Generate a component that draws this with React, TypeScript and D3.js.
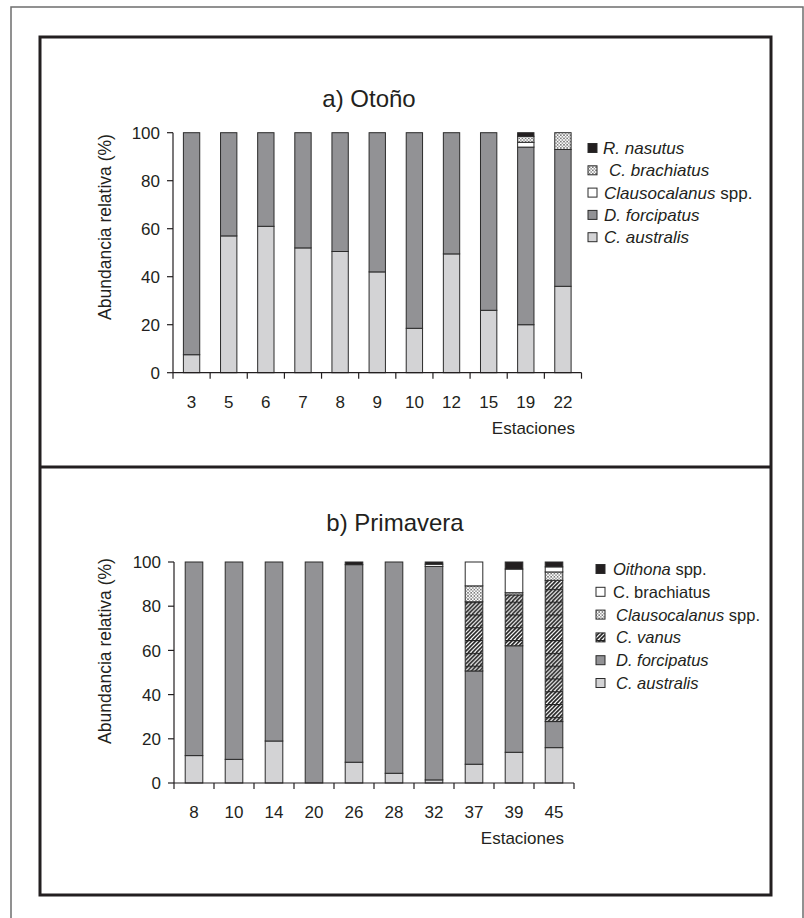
import React from "react";
import * as d3 from "d3";

// ---- Otoño (autumn) ----
const autumnStations = ["3", "5", "6", "7", "8", "9", "10", "12", "15", "19", "22"];
const autumnAustralis = [7.5, 57, 61, 52, 50.5, 42, 18.5, 49.5, 26, 20, 36];
const autumnForcipatus = [92.5, 43, 39, 48, 49.5, 58, 81.5, 50.5, 74, 74, 57];
const autumnClausocalanus = [0, 0, 0, 0, 0, 0, 0, 0, 0, 2, 0];
const autumnBrachiatus = [0, 0, 0, 0, 0, 0, 0, 0, 0, 2.5, 7];
const autumnNasutus = [0, 0, 0, 0, 0, 0, 0, 0, 0, 1.5, 0];

// ---- Primavera (spring) ----
const springStations = ["8", "10", "14", "20", "26", "28", "32", "37", "39", "45"];
const springAustralis = [12.4, 10.7, 19, 0, 9.4, 4.4, 1.4, 8.5, 13.9, 16];
const springForcipatus = [87.6, 89.3, 81, 100, 89.4, 95.6, 96.6, 42.2, 48.2, 11.8];
const springVanus = [0, 0, 0, 0, 0, 0, 0, 31.3, 23, 63.9];
const springClausocalanus = [0, 0, 0, 0, 0, 0, 0, 7.2, 1, 3.8];
const springBrachiatus = [0, 0, 0, 0, 0, 0, 1, 10.8, 10.7, 2.3];
const springOithona = [0, 0, 0, 0, 1.2, 0, 1, 0, 3.2, 2.2];

const yTicks = [0, 20, 40, 60, 80, 100];

const FONT = "'Liberation Sans', Arial, Helvetica, sans-serif";
const INK = "#231f20";

type Part = { text: string; italic: boolean };
type Series = { key: string; values: number[]; fill: string; label: Part[] };

type ChartProps = {
  title: string;
  stations: string[];
  series: Series[]; // bottom to top
  xRange: [number, number];
  yRange: [number, number]; // [y of 0, y of 100]
  axisX: number;
  titleX: number;
  titleY: number;
  yLabelX: number;
  yLabelY: number;
  tickLabelY: number;
  xTitleX: number;
  xTitleY: number;
  legendX: number;
  legendY: number;
  legendStep: number;
  legendFont: number;
  legendTextX: number[];
};

function StackedChart(p: ChartProps) {
  const x = d3.scaleBand<string>().domain(p.stations).range(p.xRange).paddingInner(0.56).paddingOuter(0.28);
  const y = d3.scaleLinear().domain([0, 100]).range(p.yRange);
  const band = x.step();

  const rows = p.stations.map((s, i) => {
    const r: Record<string, number | string> = { station: s };
    p.series.forEach((se) => (r[se.key] = se.values[i]));
    return r;
  });
  const stack = d3.stack<Record<string, any>>().keys(p.series.map((s) => s.key));
  const layers = stack(rows);

  const legendItems = [...p.series].reverse();

  return (
    <g>
      <text x={p.titleX} y={p.titleY} fontSize={24} textAnchor="middle" fill={INK} fontFamily={FONT}>
        {p.title}
      </text>

      {/* stacked bars */}
      {layers.map((layer, li) => (
        <g key={layer.key}>
          {layer.map((d, i) => {
            const h = y(d[0]) - y(d[1]);
            if (h <= 0.01) return null;
            return (
              <rect
                key={i}
                x={x(p.stations[i])!}
                y={y(d[1])}
                width={x.bandwidth()}
                height={h}
                fill={p.series[li].fill}
                stroke="#2b2b2b"
                strokeWidth={1}
              />
            );
          })}
        </g>
      ))}

      {/* y axis */}
      <line x1={p.axisX} x2={p.axisX} y1={y(0)} y2={y(100)} stroke={INK} strokeWidth={1.2} />
      {yTicks.map((t) => (
        <g key={t}>
          <line x1={p.axisX - 6} x2={p.axisX} y1={y(t)} y2={y(t)} stroke={INK} strokeWidth={1.2} />
          <text x={p.axisX - 13} y={y(t)} dy="0.36em" fontSize={17} textAnchor="end" fill={INK} fontFamily={FONT}>
            {t}
          </text>
        </g>
      ))}

      {/* x axis */}
      <line x1={p.axisX} x2={p.xRange[1]} y1={y(0)} y2={y(0)} stroke={INK} strokeWidth={1.2} />
      {p.stations.map((s, i) => (
        <line
          key={"t" + s}
          x1={p.xRange[0] + band * i}
          x2={p.xRange[0] + band * i}
          y1={y(0)}
          y2={y(0) + 6}
          stroke={INK}
          strokeWidth={1.2}
        />
      ))}
      <line x1={p.xRange[1]} x2={p.xRange[1]} y1={y(0)} y2={y(0) + 6} stroke={INK} strokeWidth={1.2} />
      {p.stations.map((s) => (
        <text
          key={"l" + s}
          x={x(s)! + x.bandwidth() / 2}
          y={p.tickLabelY}
          dy="0.36em"
          fontSize={17}
          textAnchor="middle"
          fill={INK}
          fontFamily={FONT}
        >
          {s}
        </text>
      ))}
      <text x={p.xTitleX} y={p.xTitleY} dy="0.36em" fontSize={17} textAnchor="end" fill={INK} fontFamily={FONT}>
        Estaciones
      </text>

      <text
        transform={`translate(${p.yLabelX},${p.yLabelY}) rotate(-90)`}
        fontSize={17.5}
        textAnchor="middle"
        fill={INK}
        fontFamily={FONT}
      >
        Abundancia relativa (%)
      </text>

      {/* legend */}
      {legendItems.map((se, i) => {
        const cy = p.legendY + i * p.legendStep;
        return (
          <g key={"lg" + se.key}>
            <rect x={p.legendX} y={cy - 4.5} width={9} height={9} fill={se.fill} stroke="#2b2b2b" strokeWidth={1} />
            <text x={p.legendTextX[i]} y={cy} dy="0.36em" fontSize={p.legendFont} fill={INK} fontFamily={FONT}>
              {se.label.map((pt, j) => (
                <tspan key={j} fontStyle={pt.italic ? "italic" : "normal"}>
                  {pt.text}
                </tspan>
              ))}
            </text>
          </g>
        );
      })}
    </g>
  );
}

const LIGHT = "#d3d3d5";
const DARK = "#929295";
const BLACK = "#231f20";

export default function App() {
  const autumnSeries: Series[] = [
    { key: "australis", values: autumnAustralis, fill: LIGHT, label: [{ text: "C. australis", italic: true }] },
    { key: "forcipatus", values: autumnForcipatus, fill: DARK, label: [{ text: "D. forcipatus", italic: true }] },
    {
      key: "clausocalanus",
      values: autumnClausocalanus,
      fill: "#ffffff",
      label: [
        { text: "Clausocalanus", italic: true },
        { text: " spp.", italic: false },
      ],
    },
    { key: "brachiatus", values: autumnBrachiatus, fill: "url(#dots)", label: [{ text: "C. brachiatus", italic: true }] },
    { key: "nasutus", values: autumnNasutus, fill: BLACK, label: [{ text: "R. nasutus", italic: true }] },
  ];

  const springSeries: Series[] = [
    { key: "australis", values: springAustralis, fill: LIGHT, label: [{ text: "C. australis", italic: true }] },
    { key: "forcipatus", values: springForcipatus, fill: DARK, label: [{ text: "D. forcipatus", italic: true }] },
    { key: "vanus", values: springVanus, fill: "url(#hatch)", label: [{ text: "C. vanus", italic: true }] },
    {
      key: "clausocalanus",
      values: springClausocalanus,
      fill: "url(#dots)",
      label: [
        { text: "Clausocalanus", italic: true },
        { text: " spp.", italic: false },
      ],
    },
    { key: "brachiatus", values: springBrachiatus, fill: "#ffffff", label: [{ text: "C. brachiatus", italic: false }] },
    {
      key: "oithona",
      values: springOithona,
      fill: BLACK,
      label: [
        { text: "Oithona", italic: true },
        { text: " spp.", italic: false },
      ],
    },
  ];

  const hatchLines = d3.range(-12, 25, 4);

  return (
    <svg
      width={804}
      height={918}
      style={{ position: "absolute", left: 0, top: 0, background: "#fff" }}
      fontFamily={FONT}
    >
      <defs>
        <pattern id="dots" patternUnits="userSpaceOnUse" width={3.2} height={3.2}>
          <rect width={3.2} height={3.2} fill="#ffffff" />
          <rect x={0} y={0} width={1.6} height={1.6} fill="#7a7a7a" />
          <rect x={1.6} y={1.6} width={1.6} height={1.6} fill="#a0a0a0" />
        </pattern>
        <pattern id="hatch" patternUnits="userSpaceOnUse" width={12} height={12.8}>
          <rect width={12} height={12.8} fill="#ffffff" />
          {hatchLines.map((k) => (
            <line key={k} x1={k} y1={12.8} x2={k + 12.8} y2={0} stroke="#222" strokeWidth={1.7} />
          ))}
          <line x1={0} x2={12} y1={0.6} y2={0.6} stroke="#222" strokeWidth={1.2} />
        </pattern>
      </defs>

      <rect width={804} height={918} fill="#fff" />
      {/* outer border */}
      <rect x={11} y={7} width={792} height={940} fill="none" stroke="#6d6d6d" strokeWidth={1.5} />
      {/* panel frame */}
      <rect x={40} y={37} width={731} height={858} fill="none" stroke={INK} strokeWidth={3} />
      <line x1={40} x2={771} y1={467} y2={467} stroke={INK} strokeWidth={3} />

      <StackedChart
        title="a) Otoño"
        stations={autumnStations}
        series={autumnSeries}
        xRange={[173, 581.5]}
        yRange={[372.7, 132.7]}
        axisX={173}
        titleX={369}
        titleY={107}
        yLabelX={111}
        yLabelY={227}
        tickLabelY={402}
        xTitleX={575}
        xTitleY={428}
        legendX={588}
        legendY={148}
        legendStep={22.3}
        legendFont={17}
        legendTextX={[603, 609, 604, 604, 604]}
      />

      <StackedChart
        title="b) Primavera"
        stations={springStations}
        series={springSeries}
        xRange={[174, 574]}
        yRange={[783, 562]}
        axisX={174}
        titleX={395}
        titleY={531}
        yLabelX={111}
        yLabelY={651}
        tickLabelY={812}
        xTitleX={564}
        xTitleY={838}
        legendX={596}
        legendY={569}
        legendStep={22.8}
        legendFont={16.5}
        legendTextX={[613, 613, 616, 616, 616, 616]}
      />
    </svg>
  );
}
